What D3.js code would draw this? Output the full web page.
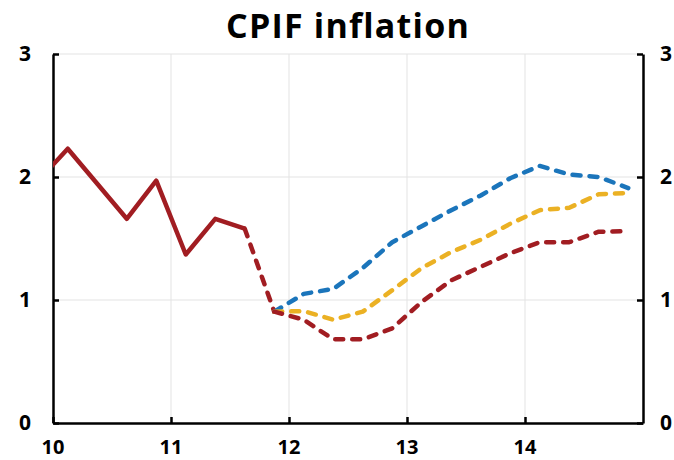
<!DOCTYPE html>
<html>
<head>
<meta charset="utf-8">
<script src="https://cdn.jsdelivr.net/npm/d3@7"></script>
<style>
  body { margin: 0; background: #fff; }
  text { font-family: "Open Sans", "Noto Sans", sans-serif; font-weight: bold; fill: #000; }
</style>
</head>
<body>
<div id="chart"></div>
<script>
// quarterly points, plotted at mid-quarter
var histX = [9.875, 10.125, 10.375, 10.625, 10.875, 11.125, 11.375, 11.625]
var histY = [1.97, 2.23, 1.945, 1.66, 1.97, 1.37, 1.66, 1.58]
var bridgeX = [11.625, 11.875]
var bridgeY = [1.58, 0.905]
var fcX = [11.875, 12.125, 12.375, 12.625, 12.875, 13.125, 13.375, 13.625, 13.875, 14.125, 14.375, 14.625, 14.875]
var blueY = [0.905, 1.05, 1.09, 1.26, 1.47, 1.60, 1.73, 1.85, 1.99, 2.09, 2.02, 2.00, 1.91]
var yellowY = [0.905, 0.91, 0.84, 0.905, 1.08, 1.26, 1.39, 1.49, 1.62, 1.73, 1.75, 1.86, 1.87]
var redY = [0.905, 0.84, 0.68, 0.68, 0.77, 0.985, 1.16, 1.27, 1.38, 1.47, 1.47, 1.555, 1.56]
var xTicks = [10, 11, 12, 13, 14]
var yTicks = [0, 1, 2, 3]

var w = 674
var h = 460
var padL = 53, padR = 643, padT = 54, padB = 423
var red = '#a11d22', blue = '#1b75bb', yellow = '#ebb124'

var svg = d3.select('#chart').append('svg')
  .attr('width', w)
  .attr('height', h)

var x = d3.scaleLinear().domain([10, 15]).range([padL, padR])
var y = d3.scaleLinear().domain([0, 3]).range([padB, padT])

svg.append('text')
  .attr('x', 348)
  .attr('y', 38)
  .attr('text-anchor', 'middle')
  .style('font-size', '34px')
  .style('letter-spacing', '1.2px')
  .text('CPIF inflation')

// grid
svg.selectAll('.hgrid')
  .data(yTicks.filter(function(d){ return d > 0 }))
  .enter()
  .append('line')
  .attr('x1', padL).attr('x2', padR)
  .attr('y1', function(d){ return y(d) })
  .attr('y2', function(d){ return y(d) })
  .attr('stroke', '#e3e3e3')
  .attr('stroke-width', 1)
svg.selectAll('.vgrid')
  .data(xTicks.filter(function(d){ return d > 10 }))
  .enter()
  .append('line')
  .attr('y1', padT).attr('y2', padB)
  .attr('x1', function(d){ return x(d) })
  .attr('x2', function(d){ return x(d) })
  .attr('stroke', '#e3e3e3')
  .attr('stroke-width', 1)

// axes, ticks pointing inward
var axL = d3.axisRight(y).tickValues(yTicks).tickSize(6).tickSizeOuter(0).tickFormat('')
var axR = d3.axisLeft(y).tickValues(yTicks).tickSize(6).tickSizeOuter(0).tickFormat('')
var axB = d3.axisTop(x).tickValues(xTicks).tickSize(6).tickSizeOuter(0).tickFormat('')
svg.append('g').attr('class', 'ax').attr('transform', 'translate(' + padL + ',0)').call(axL)
svg.append('g').attr('class', 'ax').attr('transform', 'translate(' + padR + ',0)').call(axR)
svg.append('g').attr('class', 'ax').attr('transform', 'translate(0,' + padB + ')').call(axB)
svg.selectAll('.ax path').attr('stroke', '#000').attr('stroke-width', 2.5)
svg.selectAll('.ax line').attr('stroke', '#000').attr('stroke-width', 2.5)

svg.selectAll('.ylab')
  .data(yTicks)
  .enter()
  .append('text')
  .attr('x', 25)
  .attr('y', function(d){ return y(d) + 7 })
  .attr('text-anchor', 'middle')
  .style('font-size', '21px')
  .text(function(d){ return d })
svg.selectAll('.ylab2')
  .data(yTicks)
  .enter()
  .append('text')
  .attr('x', 666)
  .attr('y', function(d){ return y(d) + 7 })
  .attr('text-anchor', 'middle')
  .style('font-size', '21px')
  .text(function(d){ return d })
svg.selectAll('.xlab')
  .data(xTicks)
  .enter()
  .append('text')
  .attr('x', function(d){ return x(d) })
  .attr('y', 454)
  .attr('text-anchor', 'middle')
  .style('font-size', '20px')
  .text(function(d){ return d })

svg.append('clipPath').attr('id', 'plot')
  .append('rect')
  .attr('x', padL).attr('y', 0)
  .attr('width', padR - padL).attr('height', padB)

var line = d3.line()
  .x(function(d){ return x(d[0]) })
  .y(function(d){ return y(d[1]) })

function draw(xs, ys, color, dashed){
  var p = svg.append('path')
    .datum(d3.zip(xs, ys))
    .attr('d', line)
    .attr('fill', 'none')
    .attr('stroke', color)
    .attr('stroke-width', 4.5)
    .attr('stroke-linejoin', 'round')
    .attr('clip-path', 'url(#plot)')
  if (dashed){
    p.attr('stroke-dasharray', '8,9').attr('stroke-linecap', 'round')
  }
}

draw(histX, histY, red, false)
draw(bridgeX, bridgeY, red, true)
draw(fcX, blueY, blue, true)
draw(fcX, yellowY, yellow, true)
draw(fcX, redY, red, true)
</script>
</body>
</html>
